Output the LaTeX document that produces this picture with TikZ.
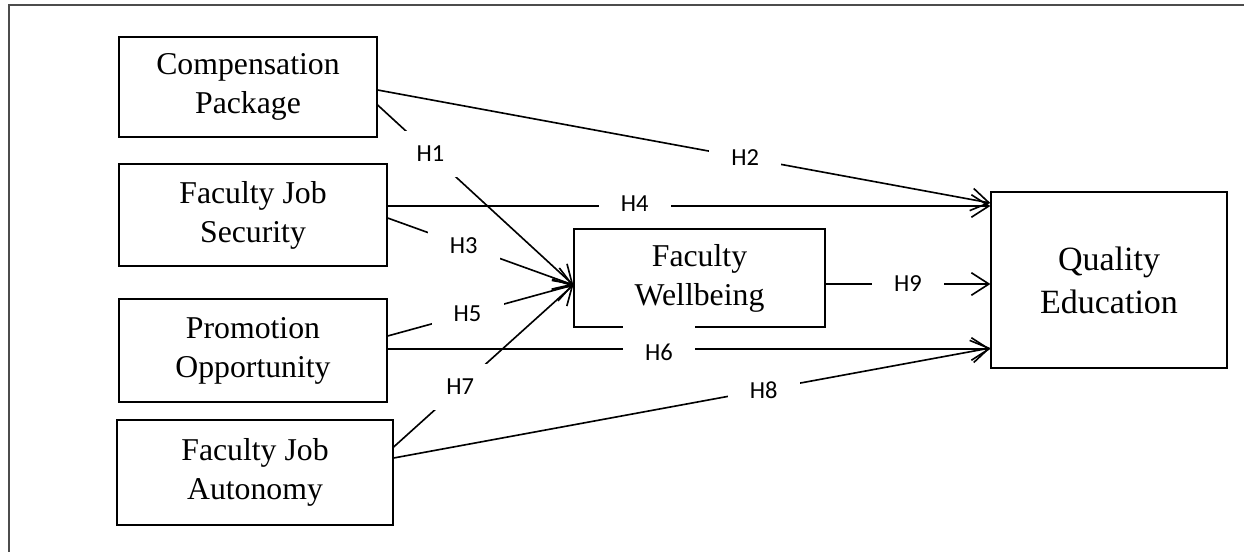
\documentclass[tikz,border=0pt]{standalone}
\usepackage{fontspec}
\setmainfont{Liberation Serif}
\newfontfamily\hfont{Carlito}
\usetikzlibrary{arrows.meta}

\begin{document}
\begin{tikzpicture}[x=0.4pt,y=-0.4pt,
		box/.style={draw,line width=0.5pt,align=center,inner sep=0pt,font=\fontsize{12.7}{15.6}\selectfont},
		lab/.style={fill=white,inner sep=0pt,minimum width=28.8pt,minimum height=18.4pt,font=\hfont\fontsize{9.8}{11}\selectfont},
		link/.style={line width=0.65pt,-{Straight Barb[length=7pt,width=9pt]}}]
		\useasboundingbox (0,0) rectangle (1244,552);
		\draw[line width=0.8pt,black!70] (9,552) -- (9,5) -- (1244,5);
		\node[box,minimum width=103.2pt,minimum height=40pt](comp) at (248,87){Compensation\\Package};
		\node[box,minimum width=107.2pt,minimum height=40.8pt,below of=comp,node distance=51.2pt,xshift=2pt](fjs){Faculty Job\\Security};
		\node[box,minimum width=107.2pt,minimum height=41.2pt,below of=fjs,node distance=54.2pt](po){Promotion\\Opportunity};
		\node[box,minimum width=110.4pt,minimum height=42pt,below of=po,node distance=48.8pt,xshift=0.8pt](fja){Faculty Job\\Autonomy};
		\node[box,minimum width=100.4pt,minimum height=39.2pt](fw) at (699.5,278){Faculty\\Wellbeing};
		\node[box,minimum width=94.4pt,minimum height=70.4pt,right of=fw,node distance=163.8pt,yshift=-0.8pt,font=\fontsize{13.6}{17.2}\selectfont](qe){Quality\\Education};
		\path[link]
		([yshift=-7.2pt]comp.east) edge node[lab,pos=.27]{H1} ([yshift=-2.8pt]fw.west)
		([yshift=-1.2pt]comp.east) edge node[lab,pos=.6]{H2} ([yshift=30.8pt]qe.west)
		([yshift=3.6pt]fjs.east) edge node[lab,pos=.41,yshift=1pt]{H4} ([yshift=29.6pt]qe.west)
		([yshift=-1.2pt]fjs.east) edge node[lab,pos=.41]{H3} ([yshift=-2.8pt]fw.west)
		([yshift=5.8pt]po.east) edge node[lab,pos=.43]{H5} ([yshift=-2.8pt]fw.west)
		([yshift=0.6pt]po.east) edge node[lab,pos=.45,text depth=0pt]{\raisebox{-2.4pt}{H6}} ([yshift=-27.6pt]qe.west)
		([yshift=10.2pt]fja.east) edge node[lab,pos=.37]{H7} ([yshift=-2.8pt]fw.west)
		([yshift=5.8pt]fja.east) edge node[lab,pos=.62]{H8} ([yshift=-27.2pt]qe.west)
		([yshift=-2.4pt]fw.east) edge node[lab,pos=.5]{H9} ([yshift=-1.6pt]qe.west);
\end{tikzpicture}
\end{document}
